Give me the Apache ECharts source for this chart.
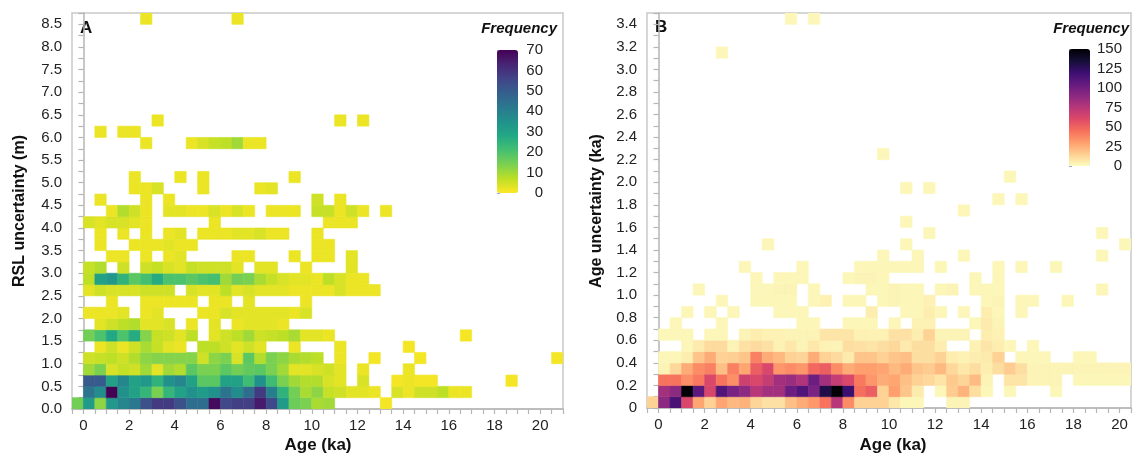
<!DOCTYPE html>
<html>
<head>
<meta charset="utf-8">
<script src="https://cdn.jsdelivr.net/npm/echarts@6/dist/echarts.min.js"></script>
<style>
  html, body { margin: 0; padding: 0; background: #fff; }
  #chart { width: 1134px; height: 456px; }
</style>
</head>
<body>
<div id="chart"></div>
<script>
// ---------------- DATA ----------------
// Age bins: 0.5 ka wide, first bin starts at -0.5 ka (column index -> bin)
const ageBinStart = -0.5;
const ageBinWidth = 0.5;
// Panel A: RSL uncertainty bins 0.25 m tall; Panel B: age uncertainty bins 0.1 ka tall
const rslBinHeight = 0.25;
const ageUncBinHeight = 0.1;

const xTickLabels = [0, 2, 4, 6, 8, 10, 12, 14, 16, 18, 20];

// Panel A frequencies, one array per RSL-uncertainty row (row 0 = 0-0.25 m), columns = age bins
const rslRow00 = [15,32,12,33,38,42,53,58,58,53,45,45,68,55,57,57,65,55,32,16,14,9,10,0,0,0,0,1];
const rslRow01 = [0,43,36,70,35,30,24,14,24,30,35,32,35,43,36,45,58,40,25,15,9,12,6,5,3,3,2,0,4,2,5,5,7,2,2];
const rslRow02 = [0,50,50,30,38,30,33,25,35,38,30,18,18,30,30,22,35,22,14,10,8,8,4,3,0,4,0,0,1,2,1,1,0,0,0,0,0,0,1];
const rslRow03 = [0,10,14,4,6,5,10,3,10,8,18,14,14,18,15,17,18,14,10,3,3,4,5,3,0,2,0,0,0,2];
const rslRow04 = [0,5,6,7,5,8,12,13,13,13,13,5,12,14,4,18,8,14,12,9,8,7,0,2,0,0,1,0,0,0,1,0,0,0,0,0,0,0,0,0,0,0,1];
const rslRow05 = [0,0,2,5,2,5,9,6,3,2,0,7,7,5,3,5,3,0,0,2,0,0,0,2,0,0,0,0,0,1];
const rslRow06 = [0,15,20,28,20,27,13,6,5,3,7,0,3,5,7,10,5,6,7,9,3,3,2,0,0,0,0,0,0,0,0,0,0,0,1];
const rslRow07 = [0,0,3,5,7,8,3,3,4,0,2,0,3,0,2,3,3,3,2];
const rslRow08 = [0,2,2,2,3,0,2,3,0,0,0,2,2,4,3,3,3,3,3,2,4];
const rslRow09 = [0,0,0,2,0,0,2,2,2,2,2,0,2,2,0,3,0,0,0,0,2];
const rslRow10 = [0,3,5,4,4,4,5,5,5,0,4,3,3,7,3,4,3,3,3,2,2,2,2,4,2,2,2];
const rslRow11 = [0,7,30,33,25,18,21,27,20,20,18,20,21,10,15,14,9,6,4,3,3,2,7,4,2,2];
const rslRow12 = [0,6,8,0,5,0,5,6,4,3,6,5,5,5,3,0,3,3,0,0,2,0,0,0,3];
const rslRow13 = [0,0,0,2,2,0,2,0,2,3,0,0,0,0,2,2,0,0,0,2,0,2,2,0,3];
const rslRow14 = [0,0,2,0,0,2,2,2,3,2,2,0,0,0,0,0,0,0,0,0,0,2,2];
const rslRow15 = [0,0,2,0,2,0,2,0,2,3,0,2,2,2,3,3,4,2,2,0,0,2];
const rslRow16 = [0,4,3,4,4,3,2,0,0,0,0,0,2,0,0,0,0,0,0,0,0,0,2,2,2];
const rslRow17 = [0,0,0,2,8,5,2,0,3,3,2,2,4,2,4,2,0,2,2,2,0,6,6,2,5,2,0,2];
const rslRow18 = [0,0,2,0,0,0,2,0,2,0,0,0,0,0,0,0,0,0,0,0,0,5,0,2];
const rslRow19 = [0,0,0,0,0,2,2,4,0,0,0,2,0,0,0,0,2,3];
const rslRow20 = [0,0,0,0,0,2,0,0,0,2,0,2,0,0,0,0,0,0,0,2];
const rslRow23 = [0,0,0,0,0,0,2,0,0,0,2,4,6,7,10,2,2];
const rslRow24 = [0,0,2,0,2,2];
const rslRow25 = [0,0,0,0,0,0,0,2,0,0,0,0,0,0,0,0,0,0,0,0,0,0,0,2,0,2];
const rslRow34 = [0,0,0,0,0,0,2,0,0,0,0,0,0,0,2];
const emptyRow = [];

// Panel B frequencies, one array per age-uncertainty row (row 0 = 0-0.1 ka), columns = age bins
const aguRow00 = [14,90,115,62,28,14,28,22,24,13,9,9,20,26,32,44,75,36,14,14,14,7,2,2,0,0,3,3];
const aguRow01 = [0,82,90,150,108,63,112,97,90,75,82,82,102,112,97,130,150,120,46,52,14,30,18,6,0,2,16,24,10,2,0,2,0,0,0,2];
const aguRow02 = [0,44,44,35,42,62,44,35,67,62,70,82,85,77,102,82,70,62,42,33,26,28,20,14,12,8,17,13,21,3,0,8,8,3,3,3,0,2,2,2,2,2];
const aguRow03 = [0,3,12,26,36,40,20,40,28,52,62,33,36,33,48,52,36,26,30,30,28,22,26,18,16,22,12,7,10,5,10,16,10,3,3,3,3,3,3,3,3,3];
const aguRow04 = [0,2,2,5,18,26,14,15,18,40,26,22,14,13,26,14,11,6,18,18,14,18,20,10,10,14,5,4,5,6,14,0,2,2,2,0,0,2,2];
const aguRow05 = [0,0,0,2,6,11,11,3,9,11,9,4,7,3,7,4,3,10,9,8,10,12,6,10,10,5,0,0,4,8,5,2,0,2];
const aguRow06 = [0,2,2,2,0,2,2,0,3,5,4,4,3,3,3,8,8,8,4,4,4,9,9,5,14,3,3,3,0,5,4];
const aguRow07 = [0,0,2,0,0,0,2,0,0,0,0,0,0,2,2,0,0,2,2,2,0,2,0,4,4,0,0,0,2,6,3];
const aguRow08 = [0,0,0,2,0,2,0,2,0,0,0,2,2,2,0,0,0,0,0,5,0,0,2,2,5,2,0,2,0,5,2,0,2];
const aguRow09 = [0,0,0,0,0,0,2,0,0,2,2,2,2,0,2,4,0,2,2,0,2,3,2,2,4,0,0,0,0,2,3,0,2,2,0,0,2];
const aguRow10 = [0,0,0,0,2,0,0,0,0,2,2,3,3,0,2,0,0,0,0,2,2,3,2,2,0,2,3,0,2,2,2,0,0,0,0,0,0,0,0,2];
const aguRow11 = [0,0,0,0,0,0,0,0,0,2,0,2,2,2,0,0,0,2,3,3,2,0,0,0,0,0,0,0,2,0,2];
const aguRow12 = [0,0,0,0,0,0,0,0,2,0,0,0,0,2,0,0,0,0,2,2,2,2,2,2,0,2,0,0,0,0,2,0,2,0,0,2];
const aguRow13 = [0,0,0,0,0,0,0,0,0,0,0,0,0,0,0,0,0,0,0,0,2,0,0,2,0,0,0,2,0,0,0,0,0,0,0,0,0,0,0,2];
const aguRow14 = [0,0,0,0,0,0,0,0,0,0,2,0,0,0,0,0,0,0,0,0,0,0,2,0,0,0,0,0,0,0,0,0,0,0,0,0,0,0,0,0,0,2];
const aguRow15 = [0,0,0,0,0,0,0,0,0,0,0,0,0,0,0,0,0,0,0,0,0,0,0,0,2,0,0,0,0,0,0,0,0,0,0,0,0,0,0,2];
const aguRow16 = [0,0,0,0,0,0,0,0,0,0,0,0,0,0,0,0,0,0,0,0,0,0,2];
const aguRow17 = [0,0,0,0,0,0,0,0,0,0,0,0,0,0,0,0,0,0,0,0,0,0,0,0,0,0,0,2];
const aguRow18 = [0,0,0,0,0,0,0,0,0,0,0,0,0,0,0,0,0,0,0,0,0,0,0,0,0,0,0,0,0,0,2,0,2];
const aguRow19 = [0,0,0,0,0,0,0,0,0,0,0,0,0,0,0,0,0,0,0,0,0,0,2,0,2];
const aguRow20 = [0,0,0,0,0,0,0,0,0,0,0,0,0,0,0,0,0,0,0,0,0,0,0,0,0,0,0,0,0,0,0,2];
const aguRow22 = [0,0,0,0,0,0,0,0,0,0,0,0,0,0,0,0,0,0,0,0,2];
const aguRow31 = [0,0,0,0,0,0,2];
const aguRow34 = [0,0,0,0,0,0,0,0,0,0,0,0,2,0,2];

const rslRows = [rslRow00,rslRow01,rslRow02,rslRow03,rslRow04,rslRow05,rslRow06,rslRow07,rslRow08,rslRow09,
  rslRow10,rslRow11,rslRow12,rslRow13,rslRow14,rslRow15,rslRow16,rslRow17,rslRow18,rslRow19,
  rslRow20,emptyRow,emptyRow,rslRow23,rslRow24,rslRow25,emptyRow,emptyRow,emptyRow,emptyRow,
  emptyRow,emptyRow,emptyRow,emptyRow,rslRow34];
const aguRows = [aguRow00,aguRow01,aguRow02,aguRow03,aguRow04,aguRow05,aguRow06,aguRow07,aguRow08,aguRow09,
  aguRow10,aguRow11,aguRow12,aguRow13,aguRow14,aguRow15,aguRow16,aguRow17,aguRow18,aguRow19,
  aguRow20,emptyRow,aguRow22,emptyRow,emptyRow,emptyRow,emptyRow,emptyRow,emptyRow,emptyRow,
  emptyRow,aguRow31,emptyRow,emptyRow,aguRow34];

// Colour scales
const viridisRev = ['#fde725','#bddf26','#7ad151','#44bf70','#22a884','#21918c','#2a788e','#355f8d','#414487','#482475','#440154'];
const magmaRev = ['#fcfdbf','#fecf92','#fe9f6d','#f7705c','#de4968','#b73779','#8c2981','#641a80','#3b0f70','#140e36','#000004'];

// ---------------- BUILD ----------------
function toCells(rows, yStep) {
  const out = [];
  rows.forEach((row, r) => row.forEach((v, c) => {
    if (v > 0) out.push([ageBinStart + c * ageBinWidth, r * yStep, v]);
  }));
  return out;
}
function cellRenderer(yStep) {
  return function (params, api) {
    const x0 = api.value(0), y0 = api.value(1);
    const pTL = api.coord([x0, y0 + yStep]);
    const pBR = api.coord([x0 + ageBinWidth, y0]);
    const col = api.visual('color');
    return {
      type: 'rect',
      shape: { x: pTL[0], y: pTL[1], width: pBR[0] - pTL[0], height: pBR[1] - pTL[1] },
      style: { fill: col, stroke: col, lineWidth: 0.6 }
    };
  };
}
const near = (v, m) => Math.abs(v / m - Math.round(v / m)) < 1e-6;

const FONT = "'Liberation Sans', Arial, Helvetica, sans-serif";
const axisGrey = '#b5b5b5';
const labelStyle = { color: '#222', fontSize: 15, fontFamily: FONT };

function xAxisFor(gridIndex, max) {
  return {
    type: 'value', gridIndex, min: -0.5, max, interval: 0.5,
    axisLine: { show: true, lineStyle: { color: axisGrey, width: 1.5 } },
    axisTick: { show: true, length: 5, lineStyle: { color: axisGrey, width: 1.2 } },
    splitLine: { show: false },
    axisLabel: Object.assign({}, labelStyle, {
      margin: 9, hideOverlap: false,
      formatter: v => (near(v, 2) && xTickLabels.includes(Math.round(v))) ? String(Math.round(v)) : ''
    })
  };
}
function yAxisFor(gridIndex, max, interval, labelEvery, fmt) {
  return {
    type: 'value', gridIndex, min: 0, max, interval,
    axisLine: { show: true, lineStyle: { color: axisGrey, width: 1.5 } },
    axisTick: { show: true, length: 5, lineStyle: { color: axisGrey, width: 1.2 } },
    splitLine: { show: false },
    axisLabel: Object.assign({}, labelStyle, {
      margin: 10, hideOverlap: false,
      formatter: v => near(v, labelEvery) ? fmt(v) : ''
    })
  };
}
function barScaleAxis(gridIndex, max, interval, margin) {
  return {
    type: 'value', gridIndex, position: 'right', min: 0, max, interval,
    axisLine: { show: false },
    axisTick: { show: true, length: 3, inside: false, lineStyle: { color: '#a6a6c8', width: 1 } },
    splitLine: { show: false },
    axisLabel: Object.assign({}, labelStyle, { margin, align: 'right', hideOverlap: false })
  };
}

const option = {
  backgroundColor: '#ffffff',
  animation: false,
  grid: [
    { left: 72, top: 13, width: 491, height: 396, show: true, borderColor: '#c9c9c9', borderWidth: 1.5 },
    { left: 647, top: 13, width: 490, height: 395, show: true, borderColor: '#c9c9c9', borderWidth: 1.5 },
    { left: 497, top: 50, width: 21, height: 143 },
    { left: 1069, top: 49, width: 21, height: 117 }
  ],
  xAxis: [
    xAxisFor(0, 21),
    xAxisFor(1, 20.5),
    { type: 'value', gridIndex: 2, show: false, min: 0, max: 1 },
    { type: 'value', gridIndex: 3, show: false, min: 0, max: 1 }
  ],
  yAxis: [
    yAxisFor(0, 8.75, 0.25, 0.5, v => v.toFixed(1)),
    yAxisFor(1, 3.5, 0.1, 0.2, v => (Math.abs(v) < 1e-9 ? '0' : v.toFixed(1))),
    barScaleAxis(2, 70, 10, 25),
    barScaleAxis(3, 150, 25, 32)
  ],
  visualMap: [
    { type: 'continuous', seriesIndex: 0, dimension: 2, min: 0, max: 70, calculable: false,
      orient: 'vertical', left: 497, top: 50, itemWidth: 21, itemHeight: 143, padding: 0,
      inRange: { color: viridisRev }, showLabel: false, text: null, hoverLink: false },
    { type: 'continuous', seriesIndex: 1, dimension: 2, min: 0, max: 150, calculable: false,
      orient: 'vertical', left: 1069, top: 49, itemWidth: 21, itemHeight: 117, padding: 0,
      inRange: { color: magmaRev }, showLabel: false, text: null, hoverLink: false }
  ],
  series: [
    { type: 'custom', name: 'RSL', xAxisIndex: 0, yAxisIndex: 0, clip: true,
      renderItem: cellRenderer(rslBinHeight), data: toCells(rslRows, rslBinHeight), z: 1 },
    { type: 'custom', name: 'AgeUnc', xAxisIndex: 1, yAxisIndex: 1, clip: true,
      renderItem: cellRenderer(ageUncBinHeight), data: toCells(aguRows, ageUncBinHeight), z: 1 }
  ],
  graphic: [
    { type: 'text', left: 80, top: 20, style: { text: 'A', font: `bold 17px ${FONT}`, fill: '#111' } },
    { type: 'text', left: 655, top: 19, style: { text: 'B', font: `bold 17px ${FONT}`, fill: '#111' } },
    { type: 'text', x: 557, y: 29, style: { text: 'Frequency', font: `italic bold 15px ${FONT}`, fill: '#111', align: 'right', verticalAlign: 'middle' } },
    { type: 'text', x: 1129, y: 29, style: { text: 'Frequency', font: `italic bold 15px ${FONT}`, fill: '#111', align: 'right', verticalAlign: 'middle' } },
    { type: 'text', x: 20, y: 211, rotation: Math.PI / 2, style: { text: 'RSL uncertainty (m)', font: `bold 16px ${FONT}`, fill: '#111', align: 'center', verticalAlign: 'middle' } },
    { type: 'text', x: 597, y: 211, rotation: Math.PI / 2, style: { text: 'Age uncertainty (ka)', font: `bold 16px ${FONT}`, fill: '#111', align: 'center', verticalAlign: 'middle' } },
    { type: 'text', x: 318, y: 445, style: { text: 'Age (ka)', font: `bold 17px ${FONT}`, fill: '#111', align: 'center', verticalAlign: 'middle' } },
    { type: 'text', x: 893, y: 445, style: { text: 'Age (ka)', font: `bold 17px ${FONT}`, fill: '#111', align: 'center', verticalAlign: 'middle' } }
  ]
};

const chart = echarts.init(document.getElementById('chart'), null, { renderer: 'canvas' });
chart.setOption(option);
</script>
</body>
</html>
